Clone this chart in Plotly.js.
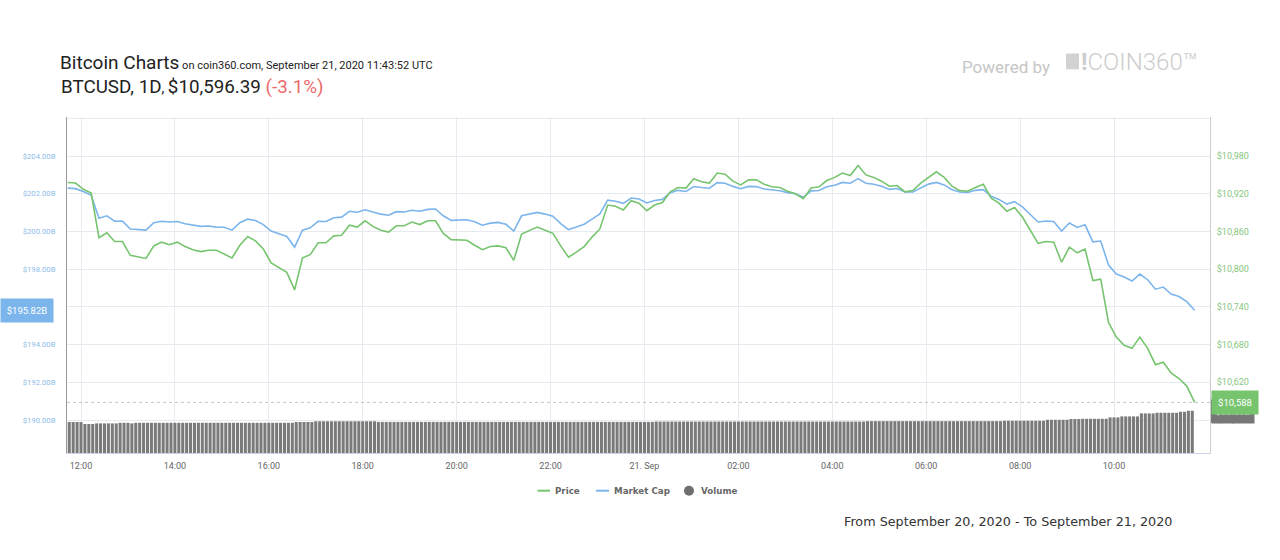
<!DOCTYPE html>
<html>
<head>
<meta charset="utf-8">
<script src="https://cdn.plot.ly/plotly-3.0.1.min.js"></script>
<style>
html,body{margin:0;padding:0;background:#fff;}
#chart{width:1280px;height:560px;}
</style>
</head>
<body>
<div id="chart"></div>
<script>
// ---- DATA ----
// BTC price in USD, 10-minute samples from 2020-09-20 11:43 to 2020-09-21 11:43 UTC
const priceUSD = [
 10938,10937,10927,10921,10850,10858,10844,10844,10822,10819,
 10817,10837,10843,10839,10843,10836,10831,10828,10830,10830,
 10824,10818,10838,10852,10845,10832,10810,10803,10795,10767,
 10818,10823,10842,10842,10853,10854,10870,10867,10877,10868,
 10862,10859,10869,10869,10875,10871,10877,10877,10857,10847,
 10846,10846,10838,10831,10836,10837,10834,10814,10856,10861,
 10867,10862,10857,10837,10819,10827,10836,10851,10864,10902,
 10900,10894,10909,10905,10893,10902,10906,10923,10930,10929,
 10944,10939,10937,10953,10951,10940,10934,10942,10942,10935,
 10931,10930,10924,10920,10912,10929,10931,10941,10946,10953,
 10949,10965,10950,10946,10940,10932,10933,10923,10925,10937,
 10946,10955,10946,10932,10925,10924,10930,10935,10913,10905,
 10892,10898,10883,10862,10841,10844,10843,10811,10835,10826,
 10832,10782,10784,10715,10692,10679,10674,10692,10674,10648,
 10652,10635,10626,10614,10588
];
// Market cap in billions USD, same timestamps
const marketCapB = [
 202.30,202.27,202.12,201.92,200.70,200.83,200.54,200.55,200.13,200.10,
 200.07,200.46,200.54,200.50,200.53,200.41,200.34,200.27,200.29,200.23,
 200.22,200.07,200.46,200.65,200.58,200.36,200.02,199.87,199.73,199.17,
 200.07,200.19,200.54,200.53,200.73,200.76,201.07,201.02,201.15,201.03,
 200.92,200.86,201.05,201.03,201.12,201.07,201.17,201.19,200.83,200.59,
 200.60,200.62,200.51,200.33,200.44,200.48,200.38,200.02,200.83,200.90,
 201.01,200.92,200.81,200.42,200.10,200.23,200.38,200.65,200.93,201.66,
 201.60,201.49,201.77,201.72,201.51,201.64,201.70,202.06,202.18,202.12,
 202.38,202.33,202.29,202.59,202.56,202.39,202.27,202.39,202.38,202.25,
 202.20,202.16,202.06,202.00,201.81,202.15,202.17,202.37,202.45,202.60,
 202.56,202.80,202.56,202.50,202.40,202.23,202.28,202.09,202.09,202.30,
 202.51,202.60,202.47,202.21,202.09,202.07,202.18,202.22,201.87,201.70,
 201.45,201.58,201.30,200.90,200.50,200.55,200.53,200.02,200.45,200.21,
 200.35,199.45,199.49,198.22,197.74,197.58,197.37,197.74,197.44,196.94,
 197.05,196.68,196.55,196.28,195.82
];
// 24h volume in billions USD, 5-minute bars from 2020-09-20 11:45
const volumeB = [
 24.8,24.8,24.8,24.8,23.2,23.2,23.2,23.7,23.7,23.7,23.7,23.7,
 23.7,24.2,24.2,24.2,23.7,24.2,24.2,24.2,24.2,24.2,24.2,24.2,
 24.2,24.2,24.2,24.2,24.2,24.2,24.2,24.2,24.2,24.2,24.2,24.2,
 24.2,24.2,24.2,24.2,24.2,24.2,24.2,24.2,24.2,24.2,24.2,24.2,
 24.2,24.2,24.2,24.2,24.2,24.2,24.2,24.2,24.2,24.2,24.8,24.8,
 24.8,24.8,24.8,25.4,25.4,25.4,25.4,25.4,25.4,25.4,25.4,25.4,
 25.4,25.4,25.4,25.4,25.4,25.4,25.4,24.9,24.9,24.9,24.9,24.9,
 24.9,24.9,24.9,24.9,24.9,24.9,24.9,24.9,24.9,24.9,24.9,24.9,
 24.9,24.9,24.9,24.9,24.9,24.9,24.9,24.9,24.9,24.9,24.9,24.9,
 24.9,24.9,24.9,24.9,24.9,24.9,24.9,24.9,24.9,24.9,24.9,24.9,
 24.9,24.9,24.9,24.9,24.9,24.9,24.9,24.9,24.9,24.9,24.9,24.9,
 24.9,24.9,24.9,24.9,24.9,24.9,24.9,24.9,24.9,24.9,24.9,24.9,
 24.9,24.9,24.9,24.9,24.9,24.9,25.2,25.2,25.2,25.2,25.2,25.2,
 25.2,25.2,25.2,25.2,25.2,25.2,25.2,25.2,25.2,25.2,25.2,25.2,
 25.2,25.2,25.2,25.2,25.2,25.2,25.2,25.2,25.2,25.2,25.2,25.2,
 25.2,25.2,25.2,25.2,25.2,25.2,25.2,25.2,25.2,25.2,25.2,25.2,
 25.2,25.2,25.2,25.2,25.2,25.2,25.2,25.2,25.2,25.2,25.2,25.2,
 25.5,25.5,25.5,25.5,25.5,25.5,25.5,25.5,25.5,25.5,25.5,25.5,
 25.5,25.5,25.5,25.5,25.5,25.5,25.5,25.5,25.5,25.5,25.5,25.5,
 25.5,25.5,25.5,25.5,25.5,25.5,25.5,25.5,25.5,25.5,25.5,25.8,
 25.8,25.8,25.8,25.8,25.8,25.8,25.8,25.8,25.8,25.8,26.6,26.6,
 26.6,26.6,26.6,26.6,27.2,27.2,27.2,27.4,27.4,27.4,27.4,27.4,
 27.4,27.4,28.5,28.5,28.5,29.3,29.3,29.3,29.3,29.3,31.7,31.7,
 31.7,31.7,32.2,32.2,32.2,32.2,32.2,32.2,33.0,33.0,33.8,33.8
];
const xTickTimes = ['2020-09-20 12:00','2020-09-20 14:00','2020-09-20 16:00','2020-09-20 18:00',
  '2020-09-20 20:00','2020-09-20 22:00','2020-09-21 00:00','2020-09-21 02:00',
  '2020-09-21 04:00','2020-09-21 06:00','2020-09-21 08:00','2020-09-21 10:00'];
const xTickLabels = ['12:00','14:00','16:00','18:00','20:00','22:00','21. Sep','02:00','04:00','06:00','08:00','10:00'];
const capTicks = [190,192,194,196,198,200,202,204];
const priceTicks = [10560,10620,10680,10740,10800,10860,10920,10980];

// ---- timestamps ----
function ts(ms){ return new Date(ms).toISOString().slice(0,19).replace('T',' '); }
const lineStart = Date.UTC(2020,8,20,11,43);
const volStart = Date.UTC(2020,8,20,11,45);
const lineTimes = priceUSD.map((_,i)=>ts(lineStart + i*600000));
const volTimes = volumeB.map((_,i)=>ts(volStart + i*300000));

// ---- geometry helpers (plot area in pixels) ----
const PL=67, PR=1210, PT=117, PB=453;
const px = x => (x-PL)/(PR-PL);
const py = y => (PB-y)/(PB-PT);

const GREEN='#77c46f', BLUE='#7cb5ec', GRAY='#7a7a7a';
const fmtPrice = v => '$' + v.toLocaleString('en-US');
const lastPrice = priceUSD[priceUSD.length-1];
const lastCap = marketCapB[marketCapB.length-1];
const lastVol = volumeB[volumeB.length-1];

// the $196.00B tick label sits under the current market-cap label in the reference
const capTickText = capTicks.map(v => Math.abs(v-lastCap) < 1 ? '' : '$'+v.toFixed(2)+'B');

const traces = [
  {type:'scatter', mode:'lines', name:'Market Cap', x:lineTimes, y:marketCapB, yaxis:'y',
   line:{color:BLUE, width:1.6}, showlegend:false},
  {type:'scatter', mode:'lines', name:'Price', x:lineTimes, y:priceUSD, yaxis:'y2',
   line:{color:GREEN, width:1.6}, showlegend:false},
  {type:'bar', name:'Volume', x:volTimes, y:volumeB, yaxis:'y3',
   marker:{color:GRAY, line:{width:0}}, showlegend:false}
];

const legendY = py(490.7);
const layout = {
  width:1280, height:560,
  margin:{l:PL, r:1280-PR, t:PT, b:560-PB, pad:0},
  paper_bgcolor:'#fff', plot_bgcolor:'#fff',
  font:{family:'Roboto, sans-serif', color:'#333'},
  hovermode:false, showlegend:false, bargap:0.22,
  title:{
    text:'Bitcoin Charts<span style="font-size:11px"> on coin360.com, September 21, 2020 11:43:52 UTC</span>',
    font:{family:'Roboto', size:19, color:'#222'},
    x:60/1280, xref:'container', xanchor:'left',
    y:1-62.5/560, yref:'container', yanchor:'middle'
  },
  xaxis:{
    type:'date', range:['2020-09-20 11:42:07','2020-09-21 12:02:40'],
    tickmode:'array', tickvals:xTickTimes, ticktext:xTickLabels,
    tickfont:{size:9, color:'#666'}, ticks:'', ticklabelstandoff:4,
    showgrid:true, gridcolor:'#e8ebf0', gridwidth:1,
    showline:true, linecolor:'#ccd6eb', linewidth:1, zeroline:false, automargin:false
  },
  yaxis:{
    range:[188.25,206.07], tickmode:'array',
    tickvals:capTicks.concat([206]),
    ticktext:capTickText.concat(['']),
    tickfont:{size:7.7, color:'#8dbbea'}, ticks:'', ticklabelstandoff:9,
    showgrid:true, gridcolor:'#e6e9ef', gridwidth:1,
    showline:true, linecolor:'#9a9a9a', linewidth:1, zeroline:false, automargin:false
  },
  yaxis2:{
    overlaying:'y', side:'right', range:[10507.5,11042.1], tickmode:'array',
    tickvals:priceTicks, ticktext:priceTicks.map(fmtPrice),
    tickfont:{size:9, color:'#86c680'}, ticks:'', ticklabelstandoff:4,
    showgrid:false, showline:true, linecolor:'#cccccc', linewidth:1, zeroline:false, automargin:false
  },
  yaxis3:{overlaying:'y', range:[0,269], visible:false},
  shapes:[
    {type:'line', xref:'paper', yref:'y2', x0:0, x1:1, y0:lastPrice, y1:lastPrice,
     line:{color:'#c4c4c4', width:1, dash:'dot'}, layer:'above'},
    {type:'rect', xref:'paper', yref:'paper', x0:px(1211), x1:px(1253), y0:py(422.5), y1:py(400),
     fillcolor:'#777', line:{width:0}, layer:'above'},
    {type:'rect', xref:'paper', yref:'paper', x0:px(1066), x1:px(1079), y0:py(69.3), y1:py(53.5),
     fillcolor:'#d2d2d2', line:{width:0}},
    {type:'line', xref:'paper', yref:'paper', x0:px(537.5), x1:px(550), y0:legendY, y1:legendY,
     line:{color:GREEN, width:2}},
    {type:'line', xref:'paper', yref:'paper', x0:px(596), x1:px(609), y0:legendY, y1:legendY,
     line:{color:BLUE, width:2}},
    {type:'circle', xref:'paper', yref:'paper', x0:px(684), x1:px(694), y0:py(485.7), y1:py(495.7),
     fillcolor:'#6f6f6f', line:{width:0}}
  ],
  annotations:[
    {xref:'paper', yref:'paper', x:px(60), y:py(86.8), xanchor:'left', yanchor:'middle', showarrow:false, borderpad:0,
     text:'BTCUSD, 1D<span style="font-size:14px">, </span>$10,596.39 <span style="color:#ec6b6b">(-3.1%)</span>',
     font:{family:'Roboto', size:18.8, color:'#222'}},
    {xref:'paper', yref:'paper', x:px(961), y:py(67), xanchor:'left', yanchor:'middle', showarrow:false, borderpad:0,
     text:'Powered by', font:{family:'Roboto', size:17, color:'#c6c6c6'}},
    {xref:'paper', yref:'paper', x:px(1080), y:py(61.5), xanchor:'left', yanchor:'middle', showarrow:false, borderpad:0,
     text:'<b>!</b>COIN360™', font:{family:'Roboto', size:24, color:'#cdcdcd', weight:300}},
    {xref:'paper', yref:'paper', x:px(554.3), y:legendY, xanchor:'left', yanchor:'middle', showarrow:false, borderpad:0,
     text:'Price', font:{family:'DejaVu Sans', size:8.7, color:'#666', weight:700}},
    {xref:'paper', yref:'paper', x:px(613.3), y:legendY, xanchor:'left', yanchor:'middle', showarrow:false, borderpad:0,
     text:'Market Cap', font:{family:'DejaVu Sans', size:8.7, color:'#666', weight:700}},
    {xref:'paper', yref:'paper', x:px(700), y:legendY, xanchor:'left', yanchor:'middle', showarrow:false, borderpad:0,
     text:'Volume', font:{family:'DejaVu Sans', size:8.7, color:'#666', weight:700}},
    {xref:'paper', yref:'paper', x:px(843), y:py(521), xanchor:'left', yanchor:'middle', showarrow:false, borderpad:0,
     text:'From September 20, 2020 - To September 21, 2020', font:{family:'DejaVu Sans', size:12.75, color:'#333'}},
    {xref:'paper', yref:'y3', x:px(1211), y:lastVol, xanchor:'left', yanchor:'middle', showarrow:false, borderpad:0,
     width:42, height:24, bgcolor:'#777', align:'center',
     text:'$'+lastVol.toFixed(2)+'B', font:{family:'Roboto', size:9.5, color:'#ddd'}},
    {xref:'paper', yref:'y2', x:px(1211), y:lastPrice, xanchor:'left', yanchor:'middle', showarrow:false, borderpad:0,
     width:46, height:22.6, bgcolor:GREEN, align:'center',
     text:fmtPrice(lastPrice), font:{family:'Roboto', size:9.5, color:'#fff'}},
    {xref:'paper', yref:'y', x:px(0), y:lastCap, xanchor:'left', yanchor:'middle', showarrow:false, borderpad:0,
     width:52, height:23.4, bgcolor:BLUE, align:'center',
     text:'$'+lastCap.toFixed(2)+'B', font:{family:'Roboto', size:9.5, color:'#fff'}}
  ]
};

Plotly.newPlot('chart', traces, layout, {displayModeBar:false, staticPlot:true});
</script>
</body>
</html>
